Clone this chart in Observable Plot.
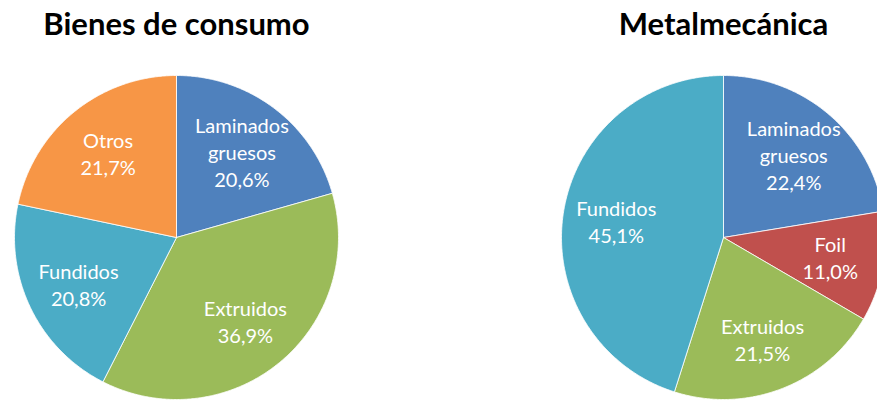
<!DOCTYPE html>
<html>
<head>
<meta charset="utf-8">
<script src="https://cdn.jsdelivr.net/npm/d3@7"></script>
<script src="https://cdn.jsdelivr.net/npm/@observablehq/plot@0.6"></script>
<style>
  html, body { margin: 0; padding: 0; background: #fff; }
  #chart { width: 877px; height: 400px; overflow: hidden; }
  #chart svg { max-width: none !important; }
</style>
</head>
<body>
<div id="chart"></div>
<script>
const charts = ["Bienes de consumo", "Metalmecánica"];
const bienesCategorias = ["Laminados gruesos", "Extruidos", "Fundidos", "Otros"];
const bienesValores = [20.6, 36.9, 20.8, 21.7];
const metalCategorias = ["Laminados gruesos", "Foil", "Extruidos", "Fundidos"];
const metalValores = [22.4, 11.0, 21.5, 45.1];
const colorDominio = ["Laminados gruesos", "Foil", "Extruidos", "Fundidos", "Otros"];
const colorRango = ["#4F81BD", "#C0504D", "#9BBB59", "#4BACC6", "#F79646"];

function slices(chart, cats, vals) {
  const total = d3.sum(vals);
  let acc = 0;
  return cats.map((c, i) => {
    const a0 = acc / total * 2 * Math.PI;
    acc += vals[i];
    const a1 = acc / total * 2 * Math.PI;
    return {chart, category: c, value: vals[i], a0, a1, mid: (a0 + a1) / 2};
  });
}

const sl = [
  ...slices(charts[0], bienesCategorias, bienesValores),
  ...slices(charts[1], metalCategorias, metalValores)
];

const outline = sl.flatMap((s, i) => {
  const pts = [{...s, id: i, px: 0, py: 0}];
  const n = Math.max(2, Math.ceil((s.a1 - s.a0) / (Math.PI / 360)));
  for (let k = 0; k <= n; k++) {
    const a = s.a0 + (s.a1 - s.a0) * k / n;
    pts.push({...s, id: i, px: Math.sin(a), py: Math.cos(a)});
  }
  pts.push({...s, id: i, px: 0, py: 0});
  return pts;
});

const K = 0.67;
const fmt = v => v.toFixed(1).replace(".", ",") + "%";

const plot = Plot.plot({
  width: 885,
  height: 400,
  marginLeft: 14,
  marginRight: 0,
  marginTop: 75,
  marginBottom: 1,
  style: {fontFamily: "Lato, 'Open Sans', sans-serif", background: "white", maxWidth: "none"},
  fx: {domain: charts, axis: null, paddingInner: 0.4077, paddingOuter: 0, round: false, label: null},
  x: {domain: [-1, 1], axis: null},
  y: {domain: [-1, 1], axis: null},
  color: {domain: colorDominio, range: colorRango},
  marks: [
    Plot.line(outline, {x: "px", y: "py", z: "id", fill: "category", stroke: "white", strokeWidth: 1, strokeOpacity: 0.8, fx: "chart", curve: "linear"}),
    Plot.text(sl, {
      fx: "chart",
      x: d => K * Math.sin(d.mid),
      y: d => K * Math.cos(d.mid),
      text: d => d.category.replace(" ", "\n") + "\n" + fmt(d.value),
      fill: "white",
      fontSize: 20,
      lineHeight: 1.35
    }),
    Plot.text(charts, {
      fx: d => d,
      text: d => d,
      frameAnchor: "top",
      lineAnchor: "middle",
      dy: -50,
      fontSize: 31,
      fontWeight: "bold",
      fill: "black"
    })
  ]
});
document.getElementById("chart").appendChild(plot);
</script>
</body>
</html>
